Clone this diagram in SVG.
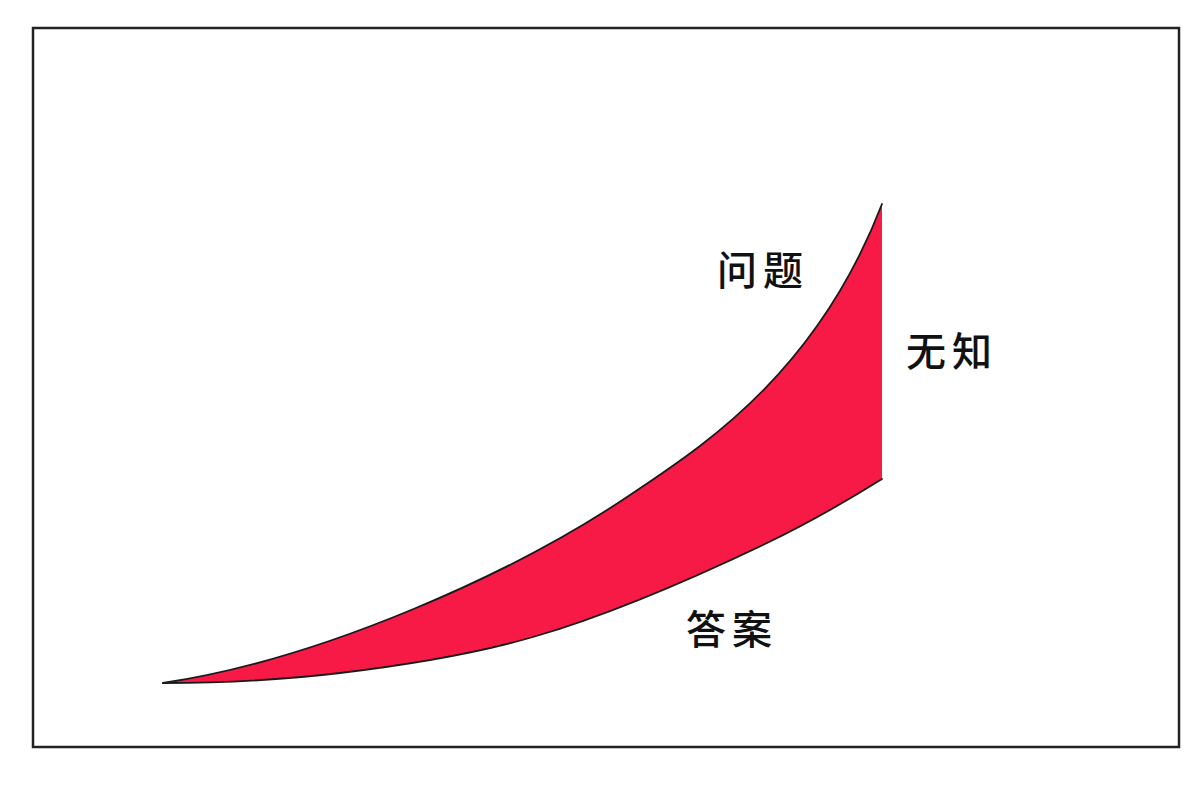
<svg xmlns="http://www.w3.org/2000/svg" width="1200" height="789" viewBox="0 0 1200 789">
  <style>
    .frame { fill: #ffffff; stroke: #222222; stroke-width: 2.5; }
    .band { fill: #F81A46; stroke: none; }
    .edge { fill: none; stroke: #1a1a1a; stroke-width: 1.8; stroke-linecap: round; }
    .lbl { font-family: "Liberation Sans", "Noto Sans CJK SC", sans-serif; font-size: 40px; font-weight: 500; fill: #111111; letter-spacing: 6px; }
  </style>
  <rect width="1200" height="789" fill="#ffffff"/>
  <rect class="frame" x="33" y="28" width="1146" height="719"/>
  <g id="band">
    <path class="band" d="M163,683 C319.7,659.5 513,574.6 633,493 C699,448.1 816,375.6 882,204 L882,479 C843.7,502.9 805.3,524.6 767,543 C689,580.4 611,614.4 533,637 C468.7,655.6 404.3,665.3 340,673 C281,680.1 222,683 163,683 Z"/>
    <path class="edge" d="M163,683 C319.7,659.5 513,574.6 633,493 C699,448.1 816,375.6 882,204"/>
    <path class="edge" d="M882,479 C843.7,502.9 805.3,524.6 767,543 C689,580.4 611,614.4 533,637 C468.7,655.6 404.3,665.3 340,673 C281,680.1 222,683 163,683"/>
  </g>
  <g id="label-question"><text class="lbl" x="717" y="285">问题</text></g>
  <g id="label-ignorance"><text class="lbl" x="906" y="366">无知</text></g>
  <g id="label-answer"><text class="lbl" x="686" y="644">答案</text></g>
</svg>
